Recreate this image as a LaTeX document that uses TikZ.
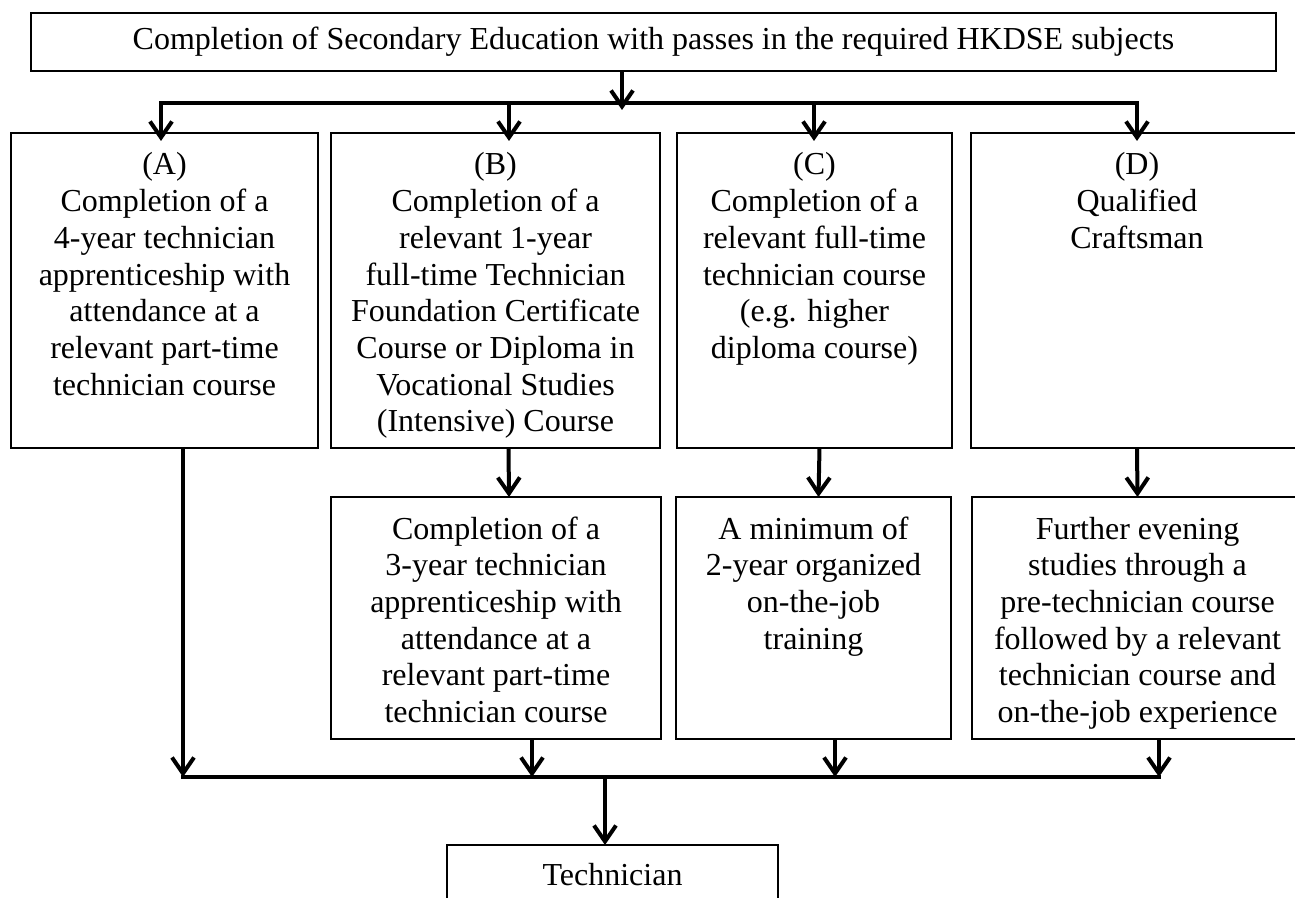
\documentclass[tikz,border=0pt]{standalone}
\usepackage{fontspec}
\setmainfont{Liberation Serif}
\usetikzlibrary{arrows.meta}
\newcommand{\toptxt}[3]{\parbox[c][#2][t]{#1}{\centering\rule{0pt}{21pt}#3}}

\begin{document}
\begin{tikzpicture}[
  x=0.5pt, y=-0.5pt,
  >={Straight Barb[length=8pt,width=11pt]},
  every node/.style={font=\fontsize{16}{18.35}\selectfont},
  frame/.style={draw, line width=1pt, anchor=north west, inner sep=0pt, outer sep=0pt},
  arr/.style={->, line width=2pt},
  bus/.style={line width=2pt, line cap=rect}
]
\useasboundingbox (0,0) rectangle (1295,898);
% entry
\node[frame, minimum width=622.5pt, minimum height=29pt] (sec) at (31,13)
  {Completion of Secondary Education with passes in the required HKDSE subjects};
% four routes
\node[frame] (A) at (11,133)  {\toptxt{153.5pt}{157.5pt}{(A)\\Completion of a\\4-year technician\\apprenticeship with\\attendance at a\\relevant part-time\\technician course}};
\node[frame] (B) at (331,133) {\toptxt{164.5pt}{157.5pt}{(B)\\Completion of a\\relevant 1-year\\full-time Technician\\Foundation Certificate\\Course or Diploma in\\Vocational Studies\\(Intensive) Course}};
\node[frame] (C) at (677,133) {\toptxt{137.5pt}{157.5pt}{(C)\\Completion of a\\relevant full-time\\technician course\\(e.g. higher\\diploma course)}};
\node[frame] (D) at (971,133) {\toptxt{166pt}{157.5pt}{(D)\\Qualified\\Craftsman}};
% second step
\node[frame] (B2) at (331,497) {\toptxt{165pt}{121pt}{Completion of a\\3-year technician\\apprenticeship with\\attendance at a\\relevant part-time\\technician course}};
\node[frame] (C2) at (676,497) {\toptxt{137.5pt}{121pt}{A minimum of\\2-year organized\\on-the-job\\training}};
\node[frame] (D2) at (972,497) {\toptxt{165.5pt}{121pt}{Further evening\\studies through a\\pre-technician course\\followed by a relevant\\technician course and\\on-the-job experience}};
% result
\node[frame, minimum width=165.5pt, minimum height=30pt] (tech) at (447,845) {Technician};

% split
\coordinate (split) at (622,103);
\coordinate (inA) at (161,103);
\coordinate (inB) at (509,103);
\coordinate (inC) at (814,103);
\coordinate (inD) at (1137,103);
\draw[arr, shorten >=-3.5pt] (sec.south -| split) -- (split);
\draw[bus] (inA) -- (inD);
\foreach \n in {A,B,C,D}
  \draw[arr, shorten >=-4pt] (in\n) -- (\n.north -| in\n);

\draw[arr] ([xshift=6.5pt]B.south) -- ([xshift=6.5pt]B2.north);
\draw[arr] ([xshift=2.5pt]C.south) -- ([xshift=2.5pt]C2.north);
\draw[arr] (D.south) -- (D2.north);

% merge
\coordinate (outA) at (183,777);
\coordinate (outB) at (532,777);
\coordinate (outC) at (835,777);
\coordinate (outD) at (1159,777);
\coordinate (join) at (605,777);
\draw[arr] (A.south -| outA) -- (outA);
\draw[arr] (B2.south -| outB) -- (outB);
\draw[arr] (C2.south -| outC) -- (outC);
\draw[arr] (D2.south -| outD) -- (outD);
\draw[bus] (outA) -- (outD);
\draw[arr] (join) -- (tech.north -| join);
\end{tikzpicture}
\end{document}
